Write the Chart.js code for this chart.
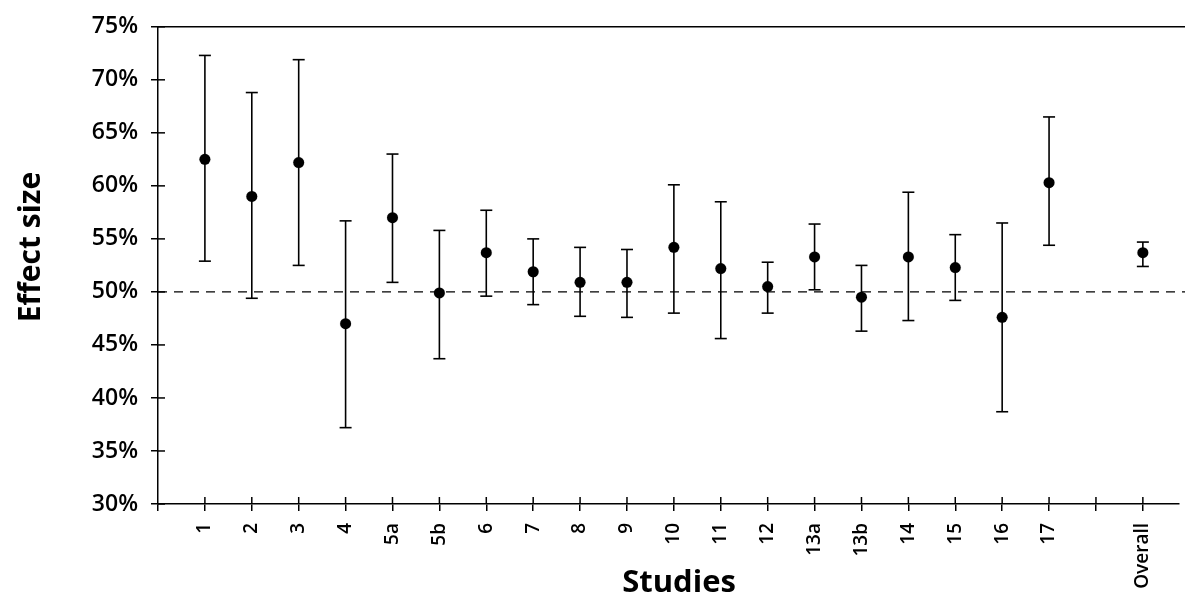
<!DOCTYPE html>
<html>
<head>
<meta charset="utf-8">
<script src="https://cdn.jsdelivr.net/npm/chart.js@4/dist/chart.umd.min.js"></script>
<style>
  html, body { margin: 0; padding: 0; background: #fff; }
  #wrap { width: 1185px; height: 595px; position: relative; }
</style>
</head>
<body>
<div id="wrap"><canvas id="chart"></canvas></div>
<script>
// studies on the x axis (blank slot before "Overall")
const studies = ['1', '2', '3', '4', '5a', '5b', '6', '7', '8', '9', '10', '11', '12', '13a', '13b', '14', '15', '16', '17', '', 'Overall'];
// effect size (%) and confidence limits
const effect = [62.5, 59.0, 62.2, 47.0, 57.0, 49.9, 53.7, 51.9, 50.9, 50.9, 54.2, 52.2, 50.5, 53.3, 49.5, 53.3, 52.3, 47.6, 60.3, null, 53.7];
const upper = [72.3, 68.8, 71.9, 56.7, 63.0, 55.8, 57.7, 55.0, 54.2, 54.0, 60.1, 58.5, 52.8, 56.4, 52.5, 59.4, 55.4, 56.5, 66.5, null, 54.7];
const lower = [52.9, 49.4, 52.5, 37.2, 50.9, 43.7, 49.6, 48.8, 47.7, 47.6, 48.0, 45.6, 48.0, 50.2, 46.3, 47.3, 49.2, 38.7, 54.4, null, 52.4];
const yTicks = [30, 35, 40, 45, 50, 55, 60, 65, 70, 75];
const refValue = 50;

const FONT = "'Open Sans', 'DejaVu Sans', sans-serif";

const points = [];
for (let i = 0; i < studies.length; i++) {
    if (effect[i] != null)
        points.push({ x: i + 1, y: effect[i] });
}

function seg(ctx, x1, y1, x2, y2) {
    ctx.beginPath();
    ctx.moveTo(x1, y1);
    ctx.lineTo(x2, y2);
    ctx.stroke();
}

// error bars, 50% line, top frame line, inner tick halves, axis titles
const extras = {
    id: 'extras',
    beforeDatasetsDraw(chart) {
        const ctx = chart.ctx;
        const xs = chart.scales.x;
        const ys = chart.scales.y;
        const area = chart.chartArea;
        const W = chart.width;
        ctx.save();
        ctx.strokeStyle = '#000';

        ctx.lineWidth = 1.3;
        ctx.setLineDash([9, 7]);
        seg(ctx, area.left, ys.getPixelForValue(refValue), W, ys.getPixelForValue(refValue));
        ctx.setLineDash([]);

        ctx.lineWidth = 1.5;
        seg(ctx, area.left, ys.getPixelForValue(ys.max), W, ys.getPixelForValue(ys.max));

        yTicks.forEach(v => {
            const y = ys.getPixelForValue(v);
            seg(ctx, area.left, y, area.left + 7, y);
        });
        for (let i = 0; i < studies.length; i++) {
            const x = xs.getPixelForValue(i + 1);
            seg(ctx, x, area.bottom, x, area.bottom - 7);
        }

        ctx.lineWidth = 1.6;
        for (let i = 0; i < studies.length; i++) {
            if (upper[i] == null) continue;
            const x = xs.getPixelForValue(i + 1);
            const yu = ys.getPixelForValue(upper[i]);
            const yl = ys.getPixelForValue(lower[i]);
            seg(ctx, x, yu, x, yl);
            seg(ctx, x - 6, yu, x + 6, yu);
            seg(ctx, x - 6, yl, x + 6, yl);
        }

        ctx.fillStyle = '#000';
        ctx.textAlign = 'center';
        ctx.textBaseline = 'alphabetic';
        ctx.font = 'bold 31px ' + FONT;
        ctx.fillText('Studies', 679, 592);
        ctx.translate(40, 247);
        ctx.rotate(-Math.PI / 2);
        ctx.font = 'bold 30px ' + FONT;
        ctx.fillText('Effect size', 0, 0);
        ctx.restore();
    }
};

new Chart(document.getElementById('chart').getContext('2d'), {
    type: 'scatter',
    data: {
        datasets: [{
            label: 'Effect size',
            data: points,
            backgroundColor: '#000',
            pointRadius: 5.5,
            pointHoverRadius: 5.5
        }]
    },
    options: {
        responsive: true,
        maintainAspectRatio: false,
        animation: false,
        layout: { padding: { top: 24, right: 0, left: 0, bottom: 0 } },
        plugins: {
            legend: { display: false },
            tooltip: { enabled: false }
        },
        scales: {
            x: {
                type: 'linear',
                min: 0,
                max: 21.76,
                afterFit: s => { s.height = 91; },
                border: { display: true, color: '#000', width: 1.5 },
                grid: { drawOnChartArea: false, tickLength: 7, color: '#000', lineWidth: 1.5 },
                ticks: {
                    stepSize: 1,
                    includeBounds: false,
                    autoSkip: false,
                    maxRotation: 90,
                    minRotation: 90,
                    padding: 12,
                    color: '#000',
                    font: { family: FONT, size: 19, weight: '600' },
                    callback: v => (Number.isInteger(v) && v >= 1) ? (studies[v - 1] ?? '') : ''
                }
            },
            y: {
                min: 30,
                max: 75,
                afterFit: s => { s.width = 158; },
                border: { display: true, color: '#000', width: 1.5 },
                grid: { drawOnChartArea: false, tickLength: 7, color: '#000', lineWidth: 1.5 },
                afterBuildTicks: s => { s.ticks = yTicks.map(v => ({ value: v })); },
                ticks: {
                    padding: 13,
                    color: '#000',
                    font: { family: FONT, size: 23, weight: '600' },
                    callback: v => v + '%'
                }
            }
        }
    },
    plugins: [extras]
});
</script>
</body>
</html>
